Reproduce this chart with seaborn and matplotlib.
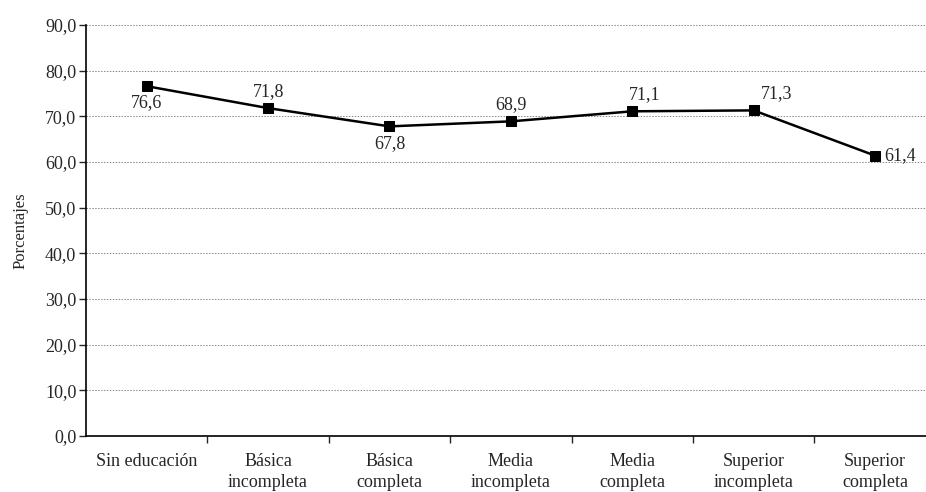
import matplotlib
matplotlib.use("Agg")
import matplotlib.pyplot as plt
import seaborn as sns
import pandas as pd

categories = ["Sin educación", "Básica\nincompleta", "Básica\ncompleta", "Media\nincompleta",
              "Media\ncompleta", "Superior\nincompleta", "Superior\ncompleta"]
values = [76.6, 71.8, 67.8, 68.9, 71.1, 71.3, 61.4]
labels = ["76,6", "71,8", "67,8", "68,9", "71,1", "71,3", "61,4"]
yticks = [0, 10, 20, 30, 40, 50, 60, 70, 80, 90]
ytick_labels = ["0,0", "10,0", "20,0", "30,0", "40,0", "50,0", "60,0", "70,0", "80,0", "90,0"]

sns.set_style("white")
plt.rcParams['font.family'] = ['Liberation Serif', 'DejaVu Serif']

df = pd.DataFrame({"x": list(range(len(categories))), "y": values})

fig = plt.figure(figsize=(9.26, 4.92), dpi=100)
ax = fig.add_axes([0.0929, 0.1138, 0.9071, 0.8354])

sns.lineplot(data=df, x="x", y="y", ax=ax, color="black", linewidth=1.8,
             marker="s", markersize=7, markeredgecolor="black", markerfacecolor="black")

FS = 13
ax.set_ylim(0, 90)
ax.set_xlim(-0.5, 6.42)
ax.set_yticks(yticks)
ax.set_yticklabels(ytick_labels, fontsize=FS)
ax.set_xticks(range(len(categories)))
ax.set_xticklabels(categories, fontsize=FS, linespacing=1.35)
ax.tick_params(axis="x", length=0, pad=12)
ax.tick_params(axis="y", length=5, width=1, direction="out", pad=2, left=True)
ax.set_xticks([i + 0.5 for i in range(len(categories) - 1)], minor=True)
ax.tick_params(axis="x", which="minor", length=5, width=1, direction="out", bottom=True)

for yv in yticks[1:]:
    ax.axhline(yv, color="#888888", linestyle=(0, (1.5, 1.5)), linewidth=0.7, zorder=0)

for s in ["top", "right"]:
    ax.spines[s].set_visible(False)
for s in ["left", "bottom"]:
    ax.spines[s].set_color("black")
    ax.spines[s].set_linewidth(1.2)

ax.set_xlabel("")
ax.set_ylabel("Porcentajes", fontsize=12, labelpad=12)

offsets = [(0, -16, "center", "center"), (0, 17, "center", "center"), (0, -17, "center", "center"),
           (0, 17, "center", "center"), (12, 17, "center", "center"), (7, 17, "left", "center"),
           (9, 0, "left", "center")]
for i, (v, lab) in enumerate(zip(values, labels)):
    dx, dy, ha, va = offsets[i]
    ax.annotate(lab, (i, v), xytext=(dx * 0.72, dy * 0.72), textcoords="offset points",
                ha=ha, va=va, fontsize=FS)

fig.savefig("out.png", dpi=100)
